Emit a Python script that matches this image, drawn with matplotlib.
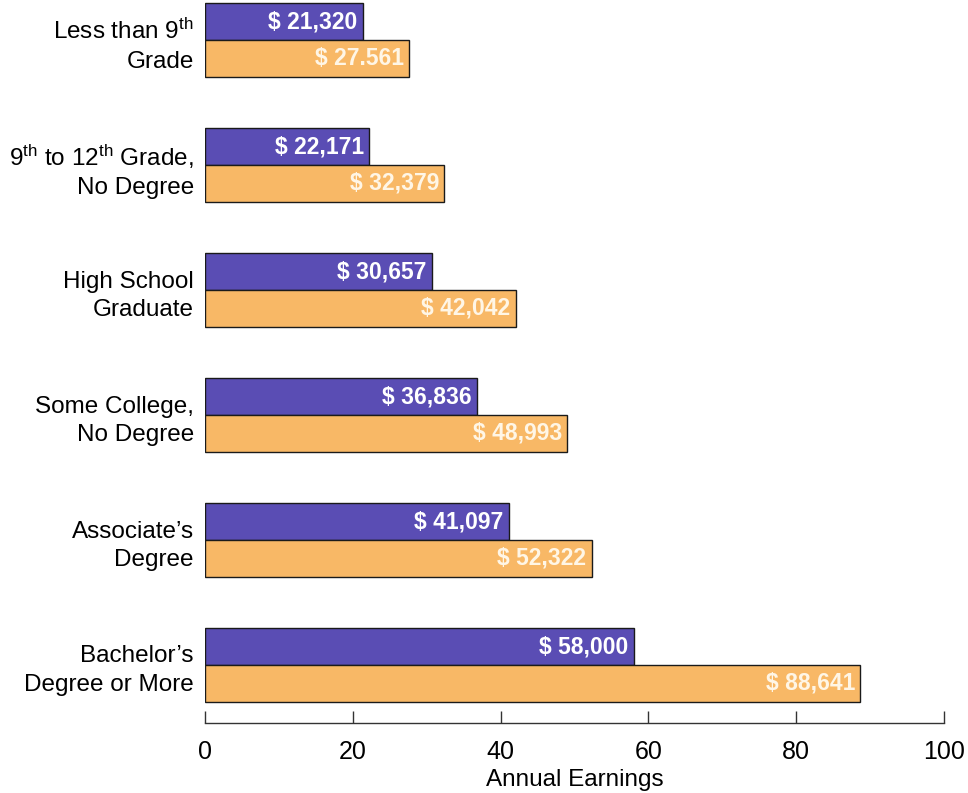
import matplotlib
matplotlib.use('Agg')
import matplotlib.pyplot as plt
import numpy as np

plt.rcParams['font.family'] = ['Liberation Sans', 'DejaVu Sans']
plt.rcParams['mathtext.fontset'] = 'custom'
plt.rcParams['mathtext.rm'] = 'Liberation Sans'
plt.rcParams['mathtext.it'] = 'Liberation Sans:italic'
plt.rcParams['mathtext.bf'] = 'Liberation Sans:bold'

# Daten (in Tausend Dollar)
categories = [
    'Less than 9$^{\\mathrm{th}}$\nGrade',
    '9$^{\\mathrm{th}}$ to 12$^{\\mathrm{th}}$ Grade,\nNo Degree',
    'High School\nGraduate',
    'Some College,\nNo Degree',
    "Associate\u2019s\nDegree",
    "Bachelor\u2019s\nDegree or More",
]
purple_values = [21.320, 22.171, 30.657, 36.836, 41.097, 58.000]
orange_values = [27.561, 32.379, 42.042, 48.993, 52.322, 88.641]
purple_labels = ['$ 21,320', '$ 22,171', '$ 30,657', '$ 36,836', '$ 41,097', '$ 58,000']
orange_labels = ['$ 27.561', '$ 32,379', '$ 42,042', '$ 48,993', '$ 52,322', '$ 88,641']
x_ticks = [0, 20, 40, 60, 80, 100]

purple = '#5a4db4'
orange = '#f8b866'
bar_h = 0.295

fig = plt.figure(figsize=(9.68, 7.93), dpi=100)
ax = fig.add_axes([205 / 968, 1 - 723 / 793, (944 - 205) / 968, 723 / 793])

y = np.arange(len(categories))
ax.barh(y - bar_h / 2, purple_values, height=bar_h, color=purple,
        edgecolor='#1a1a1a', linewidth=1.0)
ax.barh(y + bar_h / 2, orange_values, height=bar_h, color=orange,
        edgecolor='#1a1a1a', linewidth=1.0)

for i in range(len(categories)):
    ax.text(purple_values[i] - 0.7, y[i] - bar_h / 2, purple_labels[i].replace('$', r'\$'),
            ha='right', va='center', color='white', fontsize=16.5, fontweight='bold')
    ax.text(orange_values[i] - 0.7, y[i] + bar_h / 2, orange_labels[i].replace('$', r'\$'),
            ha='right', va='center', color='#fff6e6', fontsize=16.5, fontweight='bold')

ax.set_xlim(0, 100)
ax.set_ylim(5.464, -0.32)
ax.set_yticks(y)
ax.set_yticklabels(categories, fontsize=17.5, ha='right', linespacing=1.4)
ax.tick_params(axis='y', length=0, pad=8)

ax.set_xticks(x_ticks)
ax.set_xticklabels([str(t) for t in x_ticks], fontsize=18)
ax.tick_params(axis='x', direction='in', length=9, width=1.0, color='#333333', pad=12)
ax.set_xlabel('Annual Earnings', fontsize=17.5, labelpad=4)

for side in ['top', 'right', 'left']:
    ax.spines[side].set_visible(False)
ax.spines['bottom'].set_color('#333333')
ax.spines['bottom'].set_linewidth(1.0)

fig.savefig('out.png', dpi=100)
